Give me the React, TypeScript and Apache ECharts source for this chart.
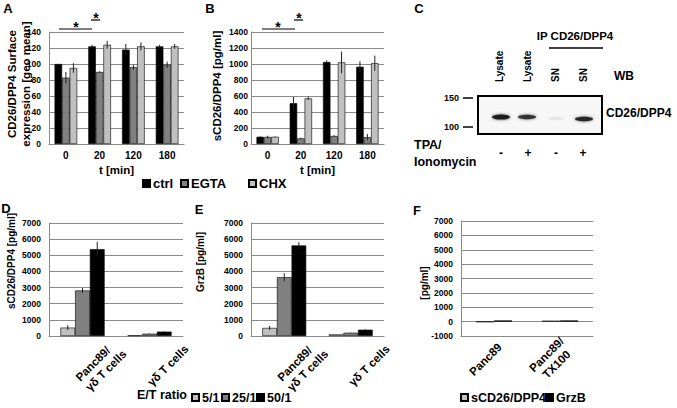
import React, { useEffect, useRef } from 'react';
import * as echarts from 'echarts';

const FONT = '"Liberation Sans", Arial, Helvetica, sans-serif';

// Panel A / B categories
const timeCats = ['0', '20', '120', '180'];
// Panel A: surface expression [geo mean]
const surfCtrl = [100, 122, 118, 122];
const surfCtrlErr = [0, 2, 7, 2];
const surfEGTA = [83, 90, 96, 99];
const surfEGTAErr = [7, 1, 3, 4];
const surfCHX = [95, 124, 122, 122];
const surfCHXErr = [6, 5, 5, 3];
// Panel B: sCD26/DPP4 [pg/ml]
const solCtrl = [90, 510, 1025, 965];
const solCtrlErr = [5, 80, 20, 70];
const solEGTA = [88, 70, 100, 85];
const solEGTAErr = [15, 10, 10, 40];
const solCHX = [90, 570, 1020, 1010];
const solCHXErr = [5, 20, 135, 95];
// Panel D / E
const cellCats = ['Panc89/\nγδ T cells', 'γδ T cells'];
const dR5 = [520, 40];
const dR5Err = [150, 5];
const dR25 = [2820, 140];
const dR25Err = [150, 15];
const dR50 = [5380, 270];
const dR50Err = [450, 20];
const eR5 = [500, 100];
const eR5Err = [120, 10];
const eR25 = [3640, 200];
const eR25Err = [250, 15];
const eR50 = [5610, 390];
const eR50Err = [200, 20];
// Panel F
const fCats = ['Panc89', 'Panc89/\nTX100'];
const fSCD26 = [-20, 60];
const fGrzB = [80, 80];
// tick ranges
const aTicks = { min: 0, max: 140, interval: 20 };
const bTicks = { min: 0, max: 1400, interval: 200 };
const deTicks = { min: 0, max: 7000, interval: 1000 };
const fTicks = { min: -1000, max: 7000, interval: 1000 };

const BLACK = '#000000';
const MID = '#808080';
const LIGHT = '#c0c0c0';
const GRID = '#8a8a8a';

const bold = (size: number) => ({ fontFamily: FONT, fontWeight: 'bold' as const, fontSize: size, color: '#000' });

function valAxis(idx: number, t: { min: number; max: number; interval: number }, margin: number) {
  return {
    type: 'value', gridIndex: idx, min: t.min, max: t.max, interval: t.interval,
    axisLine: { show: true, lineStyle: { color: GRID, width: 1 } },
    axisTick: { show: false },
    splitLine: { show: true, lineStyle: { color: GRID, width: 1 } },
    axisLabel: { ...bold(8.5), margin, formatter: (v: number) => String(v) },
  };
}

function errSeries(x: number, vals: number[], errs: number[], k: number, n: number, gap: number) {
  return {
    type: 'custom', xAxisIndex: x, yAxisIndex: x, silent: true, z: 5,
    data: vals.map((v, i) => [i, v, errs[i], k, n, gap]),
    renderItem: (_p: any, api: any) => {
      const cat = api.value(0), v = api.value(1), e = api.value(2);
      const kk = api.value(3), nn = api.value(4), g = api.value(5);
      if (!e) return { type: 'group', children: [] };
      const band = api.size([1, 0])[0];
      const bw = (band * (1 - g)) / nn;
      const cx = api.coord([cat, v])[0] + (kk - (nn - 1) / 2) * bw;
      const y1 = api.coord([cat, v + e])[1];
      const y2 = api.coord([cat, v - e])[1];
      return {
        type: 'group',
        children: [
          { type: 'line', shape: { x1: cx, y1, x2: cx, y2 }, style: { stroke: '#222', lineWidth: 1 } },
        ],
      };
    },
  };
}

function bar(x: number, name: string, data: number[], color: string, gap: number) {
  return {
    type: 'bar', name, xAxisIndex: x, yAxisIndex: x, data,
    barGap: '0%', barCategoryGap: `${gap * 100}%`,
    itemStyle: { color, borderColor: '#000', borderWidth: 0.6 },
  };
}

function leg(name: string, left: number, top: number, size: number) {
  return {
    data: [name], left, top, padding: 0, itemWidth: 7, itemHeight: 7, icon: 'rect',
    selectedMode: false, textStyle: { ...bold(size), padding: [0, 0, 0, -2] },
  };
}

export default function App() {
  const ref = useRef<HTMLDivElement>(null);
  useEffect(() => {
    document.body.style.margin = '0';
    const chart = echarts.init(ref.current!, undefined, { renderer: 'svg' });
    const gapAB = 0.33;
    const gapDE = 0.34;
    const gapF = 0.45;

    const tCat = (idx: number) => ({
      type: 'category', gridIndex: idx, data: timeCats,
      axisLine: { show: true, lineStyle: { color: GRID } }, axisTick: { show: false },
      axisLabel: { ...bold(10), margin: 6, interval: 0 },
      name: 't [min]', nameLocation: 'middle', nameGap: 20, nameTextStyle: bold(11.5),
    });

    const rotCat = (idx: number) => ({
      type: 'category', gridIndex: idx, data: cellCats,
      axisLine: { show: true, lineStyle: { color: GRID } }, axisTick: { show: false },
      axisLabel: {
        ...bold(11.5), rotate: 45, interval: 0, align: 'left', verticalAlign: 'middle', margin: 48,
        lineHeight: 14,
      },
    });

    const option: any = {
      animation: false,
      backgroundColor: '#ffffff',
      textStyle: { fontFamily: FONT },
      grid: [
        { left: 49, top: 32, width: 135, height: 112 },
        { left: 251, top: 32, width: 133, height: 112 },
        { left: 49, top: 223, width: 134, height: 113 },
        { left: 251, top: 223, width: 133, height: 113 },
        { left: 461, top: 221, width: 132, height: 115 },
      ],
      xAxis: [
        tCat(0),
        tCat(1),
        rotCat(2),
        rotCat(3),
        {
          type: 'category', gridIndex: 4, data: fCats,
          axisLine: { show: true, onZero: false, lineStyle: { color: GRID } }, axisTick: { show: false },
          axisLabel: {
            ...bold(11.5), rotate: 45, interval: 0, align: 'center', verticalAlign: 'middle', margin: 15,
            lineHeight: 14, padding: [6, 24, 0, 0],
          },
        },
      ],
      yAxis: [
        valAxis(0, aTicks, 8),
        valAxis(1, bTicks, 3),
        valAxis(2, deTicks, 8),
        valAxis(3, deTicks, 8),
        valAxis(4, fTicks, 8),
      ],
      legend: [
        leg('ctrl', 142, 177, 13),
        leg('EGTA', 180, 177, 13),
        leg('CHX', 248, 177, 13),
        leg('5/1', 191, 391, 12.5),
        leg('25/1', 221, 391, 12.5),
        leg('50/1', 256, 391, 12.5),
        leg('sCD26/DPP4', 460, 391, 12.5),
        leg('GrzB', 545, 391, 12.5),
      ],
      series: [
        bar(0, 'ctrl', surfCtrl, BLACK, gapAB),
        bar(0, 'EGTA', surfEGTA, MID, gapAB),
        bar(0, 'CHX', surfCHX, LIGHT, gapAB),
        errSeries(0, surfCtrl, surfCtrlErr, 0, 3, gapAB),
        errSeries(0, surfEGTA, surfEGTAErr, 1, 3, gapAB),
        errSeries(0, surfCHX, surfCHXErr, 2, 3, gapAB),
        bar(1, 'ctrl', solCtrl, BLACK, gapAB),
        bar(1, 'EGTA', solEGTA, MID, gapAB),
        bar(1, 'CHX', solCHX, LIGHT, gapAB),
        errSeries(1, solCtrl, solCtrlErr, 0, 3, gapAB),
        errSeries(1, solEGTA, solEGTAErr, 1, 3, gapAB),
        errSeries(1, solCHX, solCHXErr, 2, 3, gapAB),
        bar(2, '5/1', dR5, LIGHT, gapDE),
        bar(2, '25/1', dR25, MID, gapDE),
        bar(2, '50/1', dR50, BLACK, gapDE),
        errSeries(2, dR5, dR5Err, 0, 3, gapDE),
        errSeries(2, dR25, dR25Err, 1, 3, gapDE),
        errSeries(2, dR50, dR50Err, 2, 3, gapDE),
        bar(3, '5/1', eR5, LIGHT, gapDE),
        bar(3, '25/1', eR25, MID, gapDE),
        bar(3, '50/1', eR50, BLACK, gapDE),
        errSeries(3, eR5, eR5Err, 0, 3, gapDE),
        errSeries(3, eR25, eR25Err, 1, 3, gapDE),
        errSeries(3, eR50, eR50Err, 2, 3, gapDE),
        bar(4, 'sCD26/DPP4', fSCD26, LIGHT, gapF),
        bar(4, 'GrzB', fGrzB, BLACK, gapF),
      ],
      graphic: [
        // panel letters
        ...[['A', 8, 8], ['B', 210, 8], ['C', 419, 8], ['D', 6, 208], ['E', 199, 209], ['F', 417, 210]].map(
          ([t, x, y]) => ({
            type: 'text', x, y,
            style: { text: t, font: `bold 13px ${FONT}`, fill: '#000', align: 'center', verticalAlign: 'middle' },
          })
        ),
        // y-axis names
        {
          type: 'text', x: 18.5, y: 84, rotation: Math.PI / 2,
          style: {
            text: 'CD26/DPP4 Surface\nexpression [geo mean]', font: `bold 11.5px ${FONT}`, lineHeight: 14,
            fill: '#000', align: 'center', verticalAlign: 'middle',
          },
        },
        {
          type: 'text', x: 217, y: 86, rotation: Math.PI / 2,
          style: { text: 'sCD26/DPP4 [pg/ml]', font: `bold 11.5px ${FONT}`, fill: '#000', align: 'center', verticalAlign: 'middle' },
        },
        ...[['sCD26/DPP4 [pg/ml]', 11, 261], ['GrzB [pg/ml]', 200, 262], ['[pg/ml]', 424, 283]].map(
          ([t, x, y]) => ({
            type: 'text', x, y, rotation: Math.PI / 2,
            style: { text: t, font: `bold 10px ${FONT}`, fill: '#000', align: 'center', verticalAlign: 'middle' },
          })
        ),
        // significance markers
        ...[[59, 92, 29], [91, 100, 20], [262, 295, 29], [294, 303, 20]].map(([x1, x2, y]) => ({
          type: 'line', shape: { x1, y1: y, x2, y2: y }, style: { stroke: '#000', lineWidth: 1.2 },
        })),
        ...[[76, 26.5], [96, 17.5], [278, 26.5], [299, 17.5]].map(([x, y]) => ({
          type: 'text', x, y,
          style: { text: '*', font: `bold 14px ${FONT}`, fill: '#000', align: 'center', verticalAlign: 'middle' },
        })),
        // E/T ratio label
        {
          type: 'text', x: 137, y: 395,
          style: { text: 'E/T ratio', font: `bold 12.5px ${FONT}`, fill: '#000', align: 'left', verticalAlign: 'middle' },
        },
        // Panel C: western blot
        { type: 'rect', shape: { x: 478, y: 96, width: 124, height: 38 }, style: { fill: '#f7f7f7', stroke: '#000', lineWidth: 2 } },
        { type: 'ellipse', shape: { cx: 501, cy: 117, rx: 9, ry: 2.6 }, style: { fill: '#1e1e1e', shadowBlur: 3, shadowColor: '#555' } },
        { type: 'ellipse', shape: { cx: 527, cy: 117, rx: 9, ry: 2.2 }, style: { fill: '#333', shadowBlur: 3, shadowColor: '#666' } },
        { type: 'ellipse', shape: { cx: 556, cy: 118.5, rx: 8, ry: 1.4 }, style: { fill: '#e6e6e6', shadowBlur: 2, shadowColor: '#eee' } },
        { type: 'ellipse', shape: { cx: 584, cy: 119, rx: 9, ry: 2.2 }, style: { fill: '#262626', shadowBlur: 3, shadowColor: '#555' } },
        { type: 'line', shape: { x1: 463, y1: 98, x2: 473, y2: 98 }, style: { stroke: '#000', lineWidth: 1.5 } },
        { type: 'line', shape: { x1: 463, y1: 127, x2: 473, y2: 127 }, style: { stroke: '#000', lineWidth: 1.5 } },
        ...[['150', 98], ['100', 127]].map(([t, y]) => ({
          type: 'text', x: 459, y,
          style: { text: t, font: `bold 9px ${FONT}`, fill: '#000', align: 'right', verticalAlign: 'middle' },
        })),
        ...[['Lysate', 499], ['Lysate', 527], ['SN', 555], ['SN', 583]].map(([t, x]) => ({
          type: 'text', x, y: 82, rotation: Math.PI / 2,
          style: { text: t, font: `bold 10px ${FONT}`, fill: '#000', align: 'left', verticalAlign: 'middle' },
        })),
        {
          type: 'text', x: 575, y: 36,
          style: { text: 'IP CD26/DPP4', font: `bold 11.5px ${FONT}`, fill: '#000', align: 'center', verticalAlign: 'middle' },
        },
        { type: 'line', shape: { x1: 549, y1: 48, x2: 603, y2: 48 }, style: { stroke: '#000', lineWidth: 1.5 } },
        {
          type: 'text', x: 614, y: 76,
          style: { text: 'WB', font: `bold 12px ${FONT}`, fill: '#000', align: 'left', verticalAlign: 'middle' },
        },
        {
          type: 'text', x: 606, y: 113,
          style: { text: 'CD26/DPP4', font: `bold 12px ${FONT}`, fill: '#000', align: 'left', verticalAlign: 'middle' },
        },
        {
          type: 'text', x: 414, y: 145,
          style: { text: 'TPA/', font: `bold 12.5px ${FONT}`, fill: '#000', align: 'left', verticalAlign: 'middle' },
        },
        {
          type: 'text', x: 414, y: 162,
          style: { text: 'Ionomycin', font: `bold 12.5px ${FONT}`, fill: '#000', align: 'left', verticalAlign: 'middle' },
        },
        ...[['-', 501], ['+', 528], ['-', 556], ['+', 583]].map(([t, x]) => ({
          type: 'text', x, y: 153,
          style: { text: t, font: `bold 12px ${FONT}`, fill: '#000', align: 'center', verticalAlign: 'middle' },
        })),
      ],
    };
    chart.setOption(option);
    return () => chart.dispose();
  }, []);
  return <div ref={ref} style={{ width: 677, height: 408 }} />;
}
